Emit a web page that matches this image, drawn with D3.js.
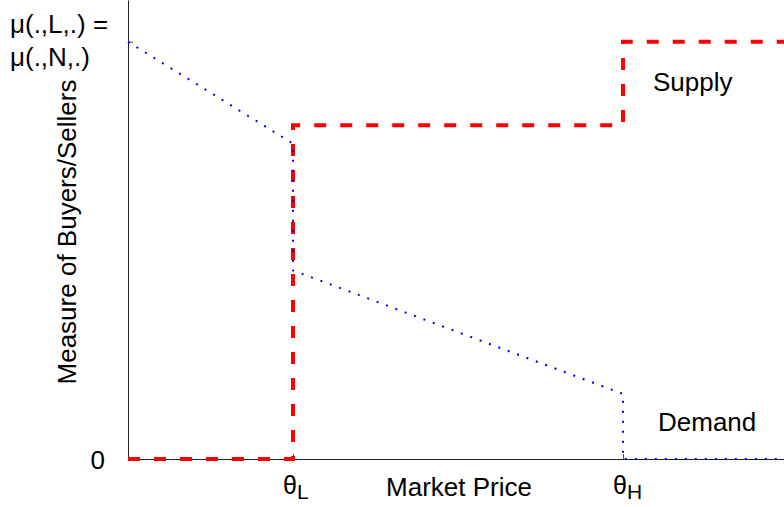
<!DOCTYPE html>
<html>
<head>
<meta charset="utf-8">
<script src="https://cdn.jsdelivr.net/npm/d3@7"></script>
<style>
  html, body { margin: 0; padding: 0; background: #fff; }
  svg { display: block; font-family: "Liberation Sans", Arial, sans-serif; }
</style>
</head>
<body>
<svg id="chart" width="784" height="507"></svg>
<script>
// Price points (θL = 1, θH = 3) and plot extent
const priceDomain = [0, 4];
const measureDomain = [0, 1.1];
const priceTicks = [1, 3];
const priceTickNames = ["L", "H"];
const measureTicks = [0, 1];

// Supply step function
const supplyPrice   = [0, 1, 1, 3, 3, 4];
const supplyMeasure = [0, 0, 0.8, 0.8, 1, 1];

// Demand schedule
const demandPrice   = [0, 1, 1, 3, 3, 4];
const demandMeasure = [1, 0.756, 0.452, 0.156, 0, 0];

const svg = d3.select("#chart");
const left = 128, bottom = 459, unit = 165;

const x = d3.scaleLinear().domain(priceDomain).range([left, left + unit * 4]);
const y = d3.scaleLinear().domain(measureDomain).range([bottom, 0]);

// Axes: only left and bottom spines, ticks pointing inward
const xAxis = d3.axisBottom(x).tickValues(priceTicks).tickSizeInner(-5).tickSizeOuter(0).tickFormat("");
const yAxis = d3.axisLeft(y).tickValues(measureTicks).tickSizeInner(-5).tickSizeOuter(0).tickFormat("");

const gx = svg.append("g").attr("transform", `translate(0,${bottom})`).call(xAxis);
const gy = svg.append("g").attr("transform", `translate(${left},0)`).call(yAxis);
[gx, gy].forEach(g => {
  g.select(".domain").attr("stroke", "#222").attr("stroke-width", 1);
  g.selectAll(".tick line").attr("stroke", "#555").attr("stroke-width", 1);
});

const line = d3.line().x(d => x(d[0])).y(d => y(d[1]));

// Supply: thick red dashes
svg.append("path")
  .datum(supplyPrice.map((p, i) => [p, supplyMeasure[i]]))
  .attr("d", line)
  .attr("fill", "none")
  .attr("stroke", "#ff0000")
  .attr("stroke-width", 4)
  .attr("stroke-dasharray", "12,14");

// Demand: fine blue dots
svg.append("path")
  .datum(demandPrice.map((p, i) => [p, demandMeasure[i]]))
  .attr("d", line)
  .attr("fill", "none")
  .attr("stroke", "#0000ff")
  .attr("stroke-width", 2)
  .attr("stroke-dasharray", "2,8");

// Vertical axis labels
svg.append("text").attr("x", 105).attr("y", y(0) + 10)
  .attr("text-anchor", "end").attr("font-size", 26).text("0");
const mu = svg.append("text").attr("x", 10).attr("font-size", 26);
mu.append("tspan").attr("x", 10).attr("y", y(1) - 9).text("μ(.,L,.) =");
mu.append("tspan").attr("x", 10).attr("y", y(1) + 24).text("μ(.,N,.)");

svg.append("text")
  .attr("transform", `translate(76,232) rotate(-90)`)
  .attr("text-anchor", "middle").attr("font-size", 26)
  .text("Measure of Buyers/Sellers");

// Horizontal axis labels
priceTicks.forEach((p, i) => {
  const t = svg.append("text").attr("x", x(p) - 10).attr("y", 494);
  t.append("tspan").attr("font-size", 25).text("θ");
  t.append("tspan").attr("font-size", 21).attr("dy", 5).text(priceTickNames[i]);
});
svg.append("text").attr("x", 459).attr("y", 496)
  .attr("text-anchor", "middle").attr("font-size", 26).text("Market Price");

// Curve labels
svg.append("text").attr("x", 653).attr("y", 91).attr("font-size", 26).text("Supply");
svg.append("text").attr("x", 658).attr("y", 431).attr("font-size", 26).text("Demand");
</script>
</body>
</html>
